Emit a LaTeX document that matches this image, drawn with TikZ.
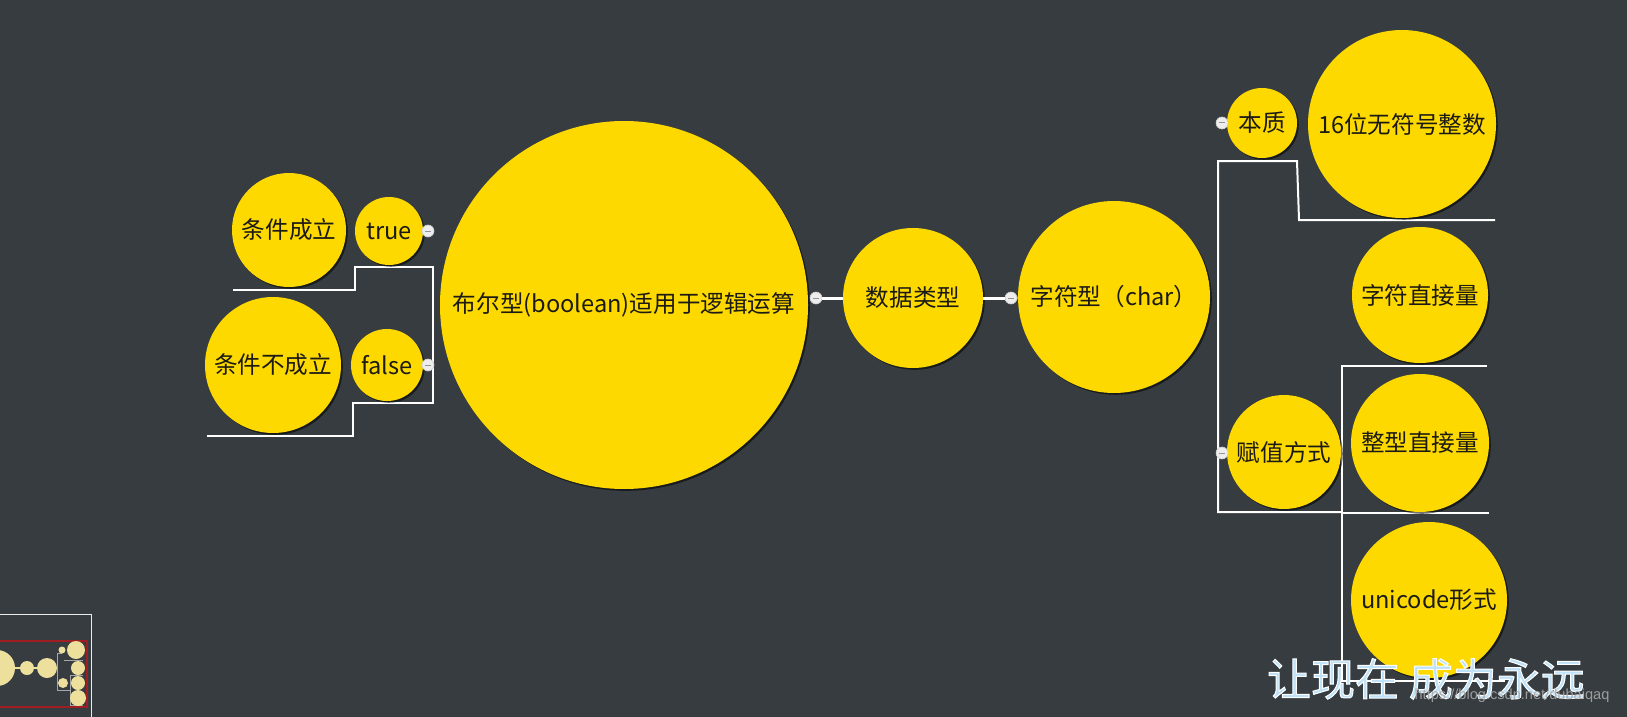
\documentclass[tikz,border=0pt]{standalone}
\usepackage{fontspec}
\newfontfamily\cjk{Noto Sans CJK SC}
\newfontfamily\wmurl{Liberation Sans}
\usetikzlibrary{shadows}
\definecolor{bg}{HTML}{363C40}
\definecolor{topicy}{HTML}{FDD900}
\definecolor{txt}{HTML}{1C1A14}
\definecolor{dotc}{HTML}{EDEDED}
\definecolor{wmblue}{HTML}{BFE2F8}
\definecolor{thumbc}{HTML}{EDE09C}
\definecolor{thumbred}{HTML}{A01E22}
\definecolor{urlgray}{HTML}{A8A8A8}
\tikzset{
  topic/.style={circle, fill=topicy, inner sep=0pt, text=txt,
    font=\fontsize{11.8}{14}\selectfont\cjk,
    drop shadow={shadow xshift=0.9pt, shadow yshift=-0.9pt, opacity=0.55, fill=black}},
  mainlink/.style={draw=white, line width=1.5pt},
  treeline/.style={draw=white, line width=1pt},
  collapse/.style={circle, fill=dotc, draw=gray!40, line width=0.3pt,
    minimum size=6pt, inner sep=0pt,
    path picture={\draw[gray!85, line width=0.5pt]
      ([xshift=-1.7pt]path picture bounding box.center) --
      ([xshift=1.7pt]path picture bounding box.center);}},
  thumbline/.style={draw=gray!70, line width=0.5pt},
  wmtext/.style={font=\fontsize{22}{24}\selectfont\cjk, inner sep=0pt},
}
\begin{document}
\begin{tikzpicture}[x=0.5pt,y=-0.5pt]
\useasboundingbox (0,0) rectangle (1627,717);
\fill[bg] (0,0) rectangle (1627,717);

% ---- tree lines (left)
\coordinate (l1) at (233,290);
\coordinate (l2) at (355,290);
\coordinate (l3) at (355,267);
\coordinate (lt) at (433,267);
\coordinate (lb) at (433,403);
\coordinate (l4) at (353,403);
\coordinate (l5) at (353,436);
\coordinate (l6) at (207,436);
\draw[treeline] (l1) -- (l2) -- (l3) -- (lt) -- (lb) -- (l4) -- (l5) -- (l6);

% ---- tree lines (right)
\coordinate (r1) at (1495,220);
\coordinate (r2) at (1299,220);
\coordinate (r3) at (1297,161);
\coordinate (rt) at (1218,161);
\coordinate (rb) at (1218,512);
\coordinate (r4) at (1342,512);
\draw[treeline] (r1) -- (r2) -- (r3) -- (rt) -- (rb) -- (r4);
\coordinate (s1) at (1487,366);
\coordinate (s2) at (1342,366);
\coordinate (s3) at (1342,681);
\coordinate (s4) at (1505,681);
\draw[treeline] (s1) -- (s2) -- (s3) -- (s4);
\coordinate (t1) at (1342,513);
\coordinate (t2) at (1489,513);
\draw[treeline] (t1) -- (t2);

% ---- topics
\node[topic, minimum size=184pt] (bool) at (624,305) {布尔型(boolean)适用于逻辑运算};
\node[topic, minimum size=70pt] (data) at (913,298) {数据类型};
\node[topic, minimum size=96pt] (char) at (1114,297) {字符型（char）};
\node[topic, minimum size=35pt] (benzhi) at (1262,123) {本质};
\node[topic, minimum size=94pt] (u16) at (1402,124) {16位无符号整数};
\node[topic, minimum size=68pt] (zfzj) at (1420,295) {字符直接量};
\node[topic, minimum size=57pt] (fuzhi) at (1284,452) {赋值方式};
\node[topic, minimum size=69pt] (zxzj) at (1420,443) {整型直接量};
\node[topic, minimum size=78pt] (uni) at (1429,600) {unicode形式};
\node[topic, minimum size=57pt] (cond) at (289,230) {条件成立};
\node[topic, minimum size=34pt] (tr) at (389,231) {true};
\node[topic, minimum size=68pt] (ncond) at (273,365) {条件不成立};
\node[topic, minimum size=36pt] (fa) at (387,365) {false};

% ---- collapse buttons
\node[collapse] (d1) at (816,298) {};
\node[collapse] (d2) at (1011,298) {};
\node[collapse] (d3) at (1222,123) {};
\node[collapse] (d4) at (1222,453) {};
\node[collapse] (d5) at (428,231) {};
\node[collapse] (d6) at (428,365) {};

% ---- main connectors
\draw[mainlink] (d1) -- (data);
\draw[mainlink] (data) -- (d2);
\draw[mainlink] (d2) -- (char);

% ---- overview thumbnail
\draw[draw=white!85!gray, line width=0.5pt] (-5,614) -- (91,614) -- (91,722);
\draw[draw=thumbred, line width=0.8pt] (-5,641) rectangle (87,707);
\draw[thumbc, line width=0.6pt] (10,668) -- (40,668);
\draw[thumbline] (62,653) -- (57,653) -- (57,690) -- (70,690);
\draw[thumbline] (64,660) -- (83,660);
\draw[thumbline] (70,675) -- (83,675) ;
\draw[thumbline] (70,675) -- (70,705) -- (83,705);
\fill[thumbc] (-3,668) circle (18);
\fill[thumbc] (27,668) circle (7);
\fill[thumbc] (47,668) circle (10);
\fill[thumbc] (62,650) circle (3.5);
\fill[thumbc] (76,650) circle (9);
\fill[thumbc] (78,668) circle (7);
\fill[thumbc] (63,683) circle (5);
\fill[thumbc] (78,683) circle (7);
\fill[thumbc] (78,698) circle (8);

% ---- watermark (outlined text: fill light blue, stroke white)
\node[wmtext, text=wmblue] (wm) at (1426,679)
  {\special{pdf:literal direct 1 1 1 RG 0.5 w 2 Tr}让现在 成为永远\special{pdf:literal direct 0 Tr}};
\node[font=\fontsize{7.3}{8}\selectfont\wmurl, text=urlgray, opacity=0.9, inner sep=0pt] (url) at (1512,696) {https://blog.csdn.net/dubaiqaq};
\end{tikzpicture}
\end{document}
